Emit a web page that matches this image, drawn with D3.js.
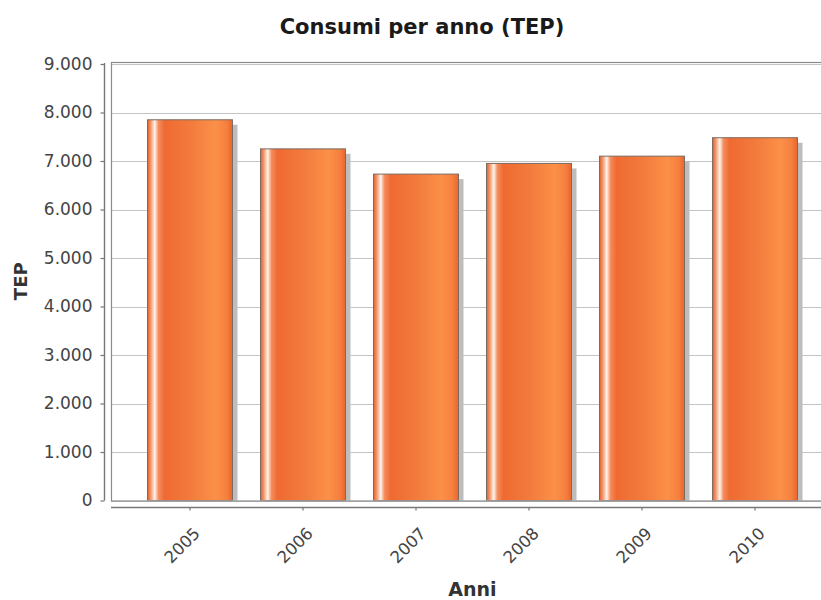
<!DOCTYPE html>
<html>
<head>
<meta charset="utf-8">
<script src="https://cdn.jsdelivr.net/npm/d3@7/dist/d3.min.js"></script>
<style>
  html, body { margin: 0; padding: 0; background: #ffffff; }
  svg { display: block; }
  text { font-family: "DejaVu Sans", sans-serif; }
</style>
</head>
<body>
<svg id="chart" width="821" height="600"></svg>
<script>
// Annual consumption, tonnes of oil equivalent
const years = ["2005", "2006", "2007", "2008", "2009", "2010"];
const consumption = [7850, 7250, 6730, 6950, 7100, 7480];
const yTicks = [0, 1000, 2000, 3000, 4000, 5000, 6000, 7000, 8000, 9000];

const chartTitle = "Consumi per anno (TEP)";
const xTitle = "Anni";
const yTitle = "TEP";

const svg = d3.select("#chart");

// plot rectangle (it runs on past the right edge of the page)
const plot = { left: 111, right: 834, top: 62, bottom: 500.5 };

const x = d3.scaleBand()
  .domain(years)
  .range([plot.left, plot.right])
  .paddingInner(0.248)
  .paddingOuter(0.323);

const y = d3.scaleLinear()
  .domain([0, 9000])
  .range([plot.bottom, 64]);

const fmt = v => d3.format(",")(v).replace(/,/g, ".");

// bar gradient: dark edge, white highlight, orange body brightening to the right
const defs = svg.append("defs");
const grad = defs.append("linearGradient")
  .attr("id", "barGrad").attr("x1", "0").attr("x2", "1").attr("y1", "0").attr("y2", "0");
[
  [0.00, "#e4602c"],
  [0.04, "#f29a70"],
  [0.085, "#fff4ec"],
  [0.13, "#f58c5c"],
  [0.20, "#ef6a32"],
  [0.50, "#f27a3c"],
  [0.80, "#fb9048"],
  [0.93, "#f6803e"],
  [1.00, "#e9662e"]
].forEach(([o, c]) => grad.append("stop").attr("offset", o).attr("stop-color", c));

defs.append("clipPath").attr("id", "plotClip")
  .append("rect")
  .attr("x", plot.left).attr("y", plot.top)
  .attr("width", plot.right - plot.left).attr("height", plot.bottom - plot.top);

// gridlines
svg.append("g")
  .selectAll("line")
  .data(yTicks)
  .join("line")
  .attr("x1", plot.left).attr("x2", plot.right)
  .attr("y1", d => Math.round(y(d)) + 0.5).attr("y2", d => Math.round(y(d)) + 0.5)
  .attr("stroke", "#c4c4c4").attr("stroke-width", 1.2);

const barsG = svg.append("g").attr("clip-path", "url(#plotClip)");

// bar shadows
barsG.selectAll("rect.shadow")
  .data(years)
  .join("rect")
  .attr("class", "shadow")
  .attr("x", d => x(d) + 5)
  .attr("y", (d, i) => y(consumption[i]) + 5)
  .attr("width", x.bandwidth())
  .attr("height", (d, i) => plot.bottom - y(consumption[i]))
  .attr("fill", "#bdbdbd");

// bars
barsG.selectAll("rect.bar")
  .data(years)
  .join("rect")
  .attr("class", "bar")
  .attr("x", d => x(d))
  .attr("y", (d, i) => y(consumption[i]))
  .attr("width", x.bandwidth())
  .attr("height", (d, i) => plot.bottom - y(consumption[i]))
  .attr("fill", "url(#barGrad)")
  .attr("stroke", "#7d6a60").attr("stroke-width", 1);

// plot outline
svg.append("rect")
  .attr("x", plot.left + 0.5).attr("y", plot.top + 0.5)
  .attr("width", plot.right - plot.left).attr("height", plot.bottom - plot.top)
  .attr("fill", "none").attr("stroke", "#8a8a8a").attr("stroke-width", 1.2);

// y axis, offset to the left of the plot
const yAxis = svg.append("g")
  .attr("transform", "translate(104.5,0)")
  .call(d3.axisLeft(y).tickValues(yTicks).tickFormat(fmt).tickSize(4).tickPadding(8));
yAxis.select(".domain").attr("stroke", "#777").attr("stroke-width", 1.4)
  .attr("d", `M0,${plot.top + 1}V${plot.bottom}`);
yAxis.selectAll(".tick line").attr("stroke", "#777").attr("stroke-width", 1.2);
yAxis.selectAll(".tick text")
  .attr("fill", "#444").style("font-size", "17px").style("font-family", "DejaVu Sans, sans-serif");

// x axis, offset below the plot
const xAxis = svg.append("g")
  .attr("transform", "translate(0,507.5)")
  .call(d3.axisBottom(x).tickSize(3).tickSizeOuter(0).tickPadding(6));
xAxis.select(".domain").attr("stroke", "#777").attr("stroke-width", 1.6)
  .attr("d", `M${plot.left},0H${plot.right}`);
xAxis.selectAll(".tick line").attr("stroke", "#777").attr("stroke-width", 1.2);
xAxis.selectAll(".tick text")
  .attr("fill", "#444").style("font-size", "16.5px").style("font-family", "DejaVu Sans, sans-serif")
  .attr("text-anchor", "end")
  .attr("dy", null)
  .attr("y", 0)
  .attr("transform", "translate(11,27) rotate(-45)");

// titles
svg.append("text")
  .attr("x", 422).attr("y", 34)
  .attr("text-anchor", "middle")
  .style("font-size", "21px").style("font-weight", "bold").attr("fill", "#1a1a1a")
  .text(chartTitle);

svg.append("text")
  .attr("x", (plot.left + plot.right) / 2).attr("y", 596)
  .attr("text-anchor", "middle")
  .style("font-size", "19px").style("font-weight", "bold").attr("fill", "#333")
  .text(xTitle);

svg.append("text")
  .attr("transform", `translate(27,${(plot.top + plot.bottom) / 2}) rotate(-90)`)
  .attr("text-anchor", "middle")
  .style("font-size", "18px").style("font-weight", "bold").attr("fill", "#333")
  .text(yTitle);
</script>
</body>
</html>
